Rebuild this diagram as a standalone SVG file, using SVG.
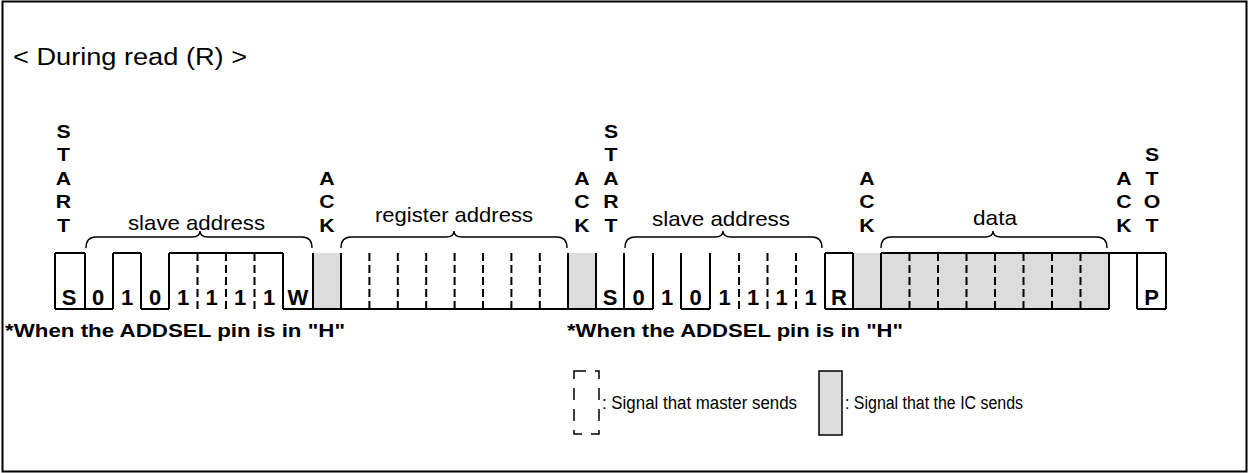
<svg xmlns="http://www.w3.org/2000/svg" width="1249" height="473" viewBox="0 0 1249 473">
<style>
.t{font-family:"Liberation Sans",Arial,Helvetica,sans-serif;fill:#000}
.b{font-weight:bold}
.v{font-family:"Liberation Sans",Arial,sans-serif;font-weight:bold;font-size:19px;text-anchor:middle}
.cell{font-family:"Liberation Sans",Arial,sans-serif;font-weight:bold;font-size:22px;text-anchor:middle}
.w{fill:none;stroke:#000;stroke-width:2}
.d{fill:none;stroke:#000;stroke-width:2;stroke-dasharray:8,4}
.g{fill:#dcdcdc;stroke:none}
.br{fill:none;stroke:#000;stroke-width:1.4}
</style>
<rect x="2.5" y="1.5" width="1244" height="470" fill="#fff" stroke="#000" stroke-width="2"/>
<text id="title" class="t" x="13" y="65" font-size="23" textLength="234" lengthAdjust="spacingAndGlyphs">&lt; During read (R) &gt;</text>

<g id="fills">
<rect class="g" x="313" y="253" width="28" height="56"/>
<rect class="g" x="568" y="253" width="28" height="56"/>
<rect class="g" x="853" y="253" width="28" height="56"/>
<rect class="g" x="881" y="253" width="228" height="56"/>
</g>

<g id="connectors">
<path class="w" d="M55,253H85 M113,253H141 M169,253H283 M825,253H853 M881,253H1166"/>
<path class="w" d="M55,309H113 M141,309H169 M283,309H653 M681,309H710 M825,309H1109 M1137,309H1166"/>
<path class="w" d="M55,253V309 M85,253V309 M113,253V309 M141,253V309 M169,253V309 M283,253V309 M313,253V309 M341,253V309 M568,253V309 M596,253V309 M624,253V309 M653,253V309 M681,253V309 M710,253V309 M825,253V309 M853,253V309 M881,253V309 M1109,253V309 M1137,253V309 M1166,253V309"/>
<path class="d" d="M197.5,253V309 M226,253V309 M254.5,253V309 M369.4,253V309 M397.8,253V309 M426.2,253V309 M454.6,253V309 M483,253V309 M511.4,253V309 M539.8,253V309 M739,253V309 M767.5,253V309 M796,253V309 M909.5,253V309 M938,253V309 M966.5,253V309 M995,253V309 M1023.5,253V309 M1052,253V309 M1080.5,253V309"/>
<path class="br" d="M86,248Q86,237 96,237L192,237Q200,237 200,231Q200,237 208,237L302,237Q312,237 312,248"/>
<path class="br" d="M341,248Q341,237 351,237L446,237Q454,237 454,231Q454,237 462,237L557,237Q567,237 567,248"/>
<path class="br" d="M625,248Q625,237 635,237L715,237Q723,237 723,231Q723,237 731,237L812,237Q822,237 822,248"/>
<path class="br" d="M881,248Q881,237 891,237L985,237Q993,237 993,231Q993,237 1001,237L1097,237Q1107,237 1107,248"/>
</g>

<g id="start1" transform="translate(63.5,0) scale(1.12,1)"><text class="v" x="0" y="138">S</text><text class="v" x="0" y="161.5">T</text><text class="v" x="0" y="185">A</text><text class="v" x="0" y="208.5">R</text><text class="v" x="0" y="232">T</text></g>
<g id="ack1" transform="translate(327,0) scale(1.12,1)"><text class="v" x="0" y="185">A</text><text class="v" x="0" y="208.5">C</text><text class="v" x="0" y="232">K</text></g>
<g id="ack2" transform="translate(582,0) scale(1.12,1)"><text class="v" x="0" y="185">A</text><text class="v" x="0" y="208.5">C</text><text class="v" x="0" y="232">K</text></g>
<g id="start2" transform="translate(611,0) scale(1.12,1)"><text class="v" x="0" y="138">S</text><text class="v" x="0" y="161.5">T</text><text class="v" x="0" y="185">A</text><text class="v" x="0" y="208.5">R</text><text class="v" x="0" y="232">T</text></g>
<g id="ack3" transform="translate(867,0) scale(1.12,1)"><text class="v" x="0" y="185">A</text><text class="v" x="0" y="208.5">C</text><text class="v" x="0" y="232">K</text></g>
<g id="ack4" transform="translate(1124,0) scale(1.12,1)"><text class="v" x="0" y="185">A</text><text class="v" x="0" y="208.5">C</text><text class="v" x="0" y="232">K</text></g>
<g id="stop" transform="translate(1152,0) scale(1.12,1)"><text class="v" x="0" y="161.5">S</text><text class="v" x="0" y="185">T</text><text class="v" x="0" y="208.5">O</text><text class="v" x="0" y="232">T</text></g>

<g id="slave1"><text class="t" x="128" y="230" font-size="21" textLength="137" lengthAdjust="spacingAndGlyphs">slave address</text></g>
<g id="regaddr"><text class="t" x="375" y="222" font-size="21" textLength="158" lengthAdjust="spacingAndGlyphs">register address</text></g>
<g id="slave2"><text class="t" x="652" y="226" font-size="21" textLength="138" lengthAdjust="spacingAndGlyphs">slave address</text></g>
<g id="data"><text class="t" x="973" y="225" font-size="21" textLength="44" lengthAdjust="spacingAndGlyphs">data</text></g>

<g id="bits1">
<text class="cell" x="69" y="305">S</text>
<text class="cell" x="98" y="305">0</text>
<text class="cell" x="127" y="305">1</text>
<text class="cell" x="155" y="305">0</text>
<text class="cell" x="183" y="305">1</text>
<text class="cell" x="211.5" y="305">1</text>
<text class="cell" x="240" y="305">1</text>
<text class="cell" x="269" y="305">1</text>
<text class="cell" x="298" y="305">W</text>
</g>
<g id="bits2">
<text class="cell" x="610" y="305">S</text>
<text class="cell" x="638.5" y="305">0</text>
<text class="cell" x="667" y="305">1</text>
<text class="cell" x="695.5" y="305">0</text>
<text class="cell" x="724.5" y="305">1</text>
<text class="cell" x="753" y="305">1</text>
<text class="cell" x="781.5" y="305">1</text>
<text class="cell" x="810.5" y="305">1</text>
<text class="cell" x="839" y="305">R</text>
<text class="cell" x="1151.5" y="305">P</text>
</g>

<g id="note1"><text class="t b" x="5" y="337" font-size="18" textLength="340" lengthAdjust="spacingAndGlyphs">*When the ADDSEL pin is in "H"</text></g>
<g id="note2"><text class="t b" x="567" y="337" font-size="18" textLength="336" lengthAdjust="spacingAndGlyphs">*When the ADDSEL pin is in "H"</text></g>

<g id="legend-master">
<rect x="574" y="371" width="25" height="63" fill="none" stroke="#000" stroke-width="1.5" stroke-dasharray="12,9"/>
<text class="t" x="602" y="409" font-size="18" textLength="195" lengthAdjust="spacingAndGlyphs">: Signal that master sends</text>
</g>
<g id="legend-ic">
<rect x="819" y="371" width="23" height="64" fill="#dcdcdc" stroke="#000" stroke-width="1.5"/>
<text class="t" x="845" y="409" font-size="18" textLength="178" lengthAdjust="spacingAndGlyphs">: Signal that the IC sends</text>
</g>
</svg>
